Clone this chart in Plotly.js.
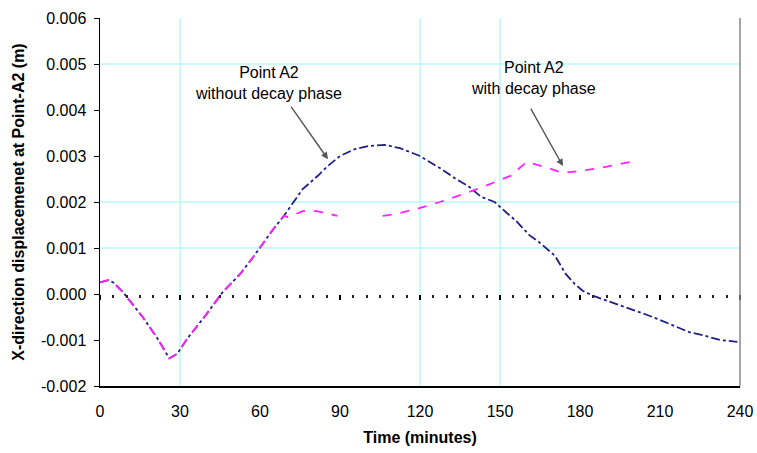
<!DOCTYPE html>
<html>
<head>
<meta charset="utf-8">
<script src="https://cdn.plot.ly/plotly-3.0.1.min.js"></script>
<style>html,body{margin:0;padding:0;background:#fff;}#chart{width:757px;height:453px;}</style>
</head>
<body>
<div id="chart"></div>
<script>
// Point A2 without decay phase (blue)
const tBlue = [0, 3, 5, 8.6, 16, 21.7, 26, 29, 32.6, 39.4, 46, 52.5, 57.4, 61, 65, 69, 71, 76, 81.7, 85, 90, 95.6, 101, 107, 112.5, 120, 123, 128, 133.5, 138, 143, 148, 152.6, 156, 161, 164.6, 170.6, 174.7, 178, 181, 185, 190.5, 197, 204, 209, 215.6, 221, 227, 232.5, 239];
const vBlue = [0.00025, 0.0003, 0.00025, 0.00004, -0.0005, -0.00098, -0.0014, -0.0013, -0.00098, -0.00048, 0.00004, 0.00043, 0.0008, 0.00109, 0.00141, 0.0017, 0.00187, 0.00228, 0.00257, 0.00276, 0.003, 0.00315, 0.00322, 0.00324, 0.00317, 0.003, 0.00289, 0.00272, 0.0025, 0.00235, 0.00211, 0.002, 0.00176, 0.00159, 0.00128, 0.00113, 0.00083, 0.00043, 0.00022, 0.00007, -0.00004, -0.00015, -0.00028, -0.00043, -0.00054, -0.0007, -0.00083, -0.00091, -0.001, -0.00104];
// Point A2 with decay phase (magenta)
const tMag = [0, 3, 5, 8.6, 16, 21.7, 26, 29, 32.6, 39.4, 46, 52.5, 57.4, 61, 65, 69, 70.5, 76, 81.4, 89, 95, 106, 111, 120, 127.5, 135, 142.5, 150, 154, 160, 167, 173.6, 180, 185.6, 191, 196, 200.6];
const vMag = [0.00025, 0.0003, 0.00025, 0.00004, -0.0005, -0.00098, -0.0014, -0.0013, -0.00098, -0.00048, 0.00004, 0.00043, 0.0008, 0.00109, 0.00141, 0.0017, 0.00167, 0.0018, 0.0018, 0.0017, null, 0.0017, 0.00174, 0.00187, 0.002, 0.00215, 0.0023, 0.00248, 0.00257, 0.00287, 0.00276, 0.00263, 0.00267, 0.00272, 0.00278, 0.00283, 0.00289];

const xTicks = [0, 30, 60, 90, 120, 150, 180, 210, 240];
const yTicks = [-0.002, -0.001, 0, 0.001, 0.002, 0.003, 0.004, 0.005, 0.006];
const yTickText = ['-0.002', '-0.001', '0.000', '0.001', '0.002', '0.003', '0.004', '0.005', '0.006'];
const gridX = [30, 120, 150];
const gridY = [0.005, 0.002, 0.001];
const labelText = ['Point A2<br>without decay phase', 'Point A2<br>with decay phase'];
const labelPos = [[63, 0.00459], [162.4, 0.0047]];
const arrowTip = [[85.5, 0.00293], [173.6, 0.00278]];

const shapes = [];
gridX.forEach(g => shapes.push({type: 'line', xref: 'x', yref: 'paper', x0: g, x1: g, y0: 0, y1: 1, line: {color: '#b8f6fa', width: 1.5}, layer: 'below'}));
gridY.forEach(g => shapes.push({type: 'line', xref: 'paper', yref: 'y', x0: 0, x1: 1, y0: g, y1: g, line: {color: '#b8f6fa', width: 1.5}, layer: 'below'}));
shapes.push({type: 'line', xref: 'paper', yref: 'paper', x0: 1, x1: 1, y0: 0, y1: 1, line: {color: '#888888', width: 1.5}});

const data = [
  {x: tBlue, y: vBlue, type: 'scatter', mode: 'lines', name: 'without decay phase',
   line: {color: '#1f1f8a', width: 1.8, dash: 'dashdot'}, connectgaps: false},
  {x: tMag, y: vMag, type: 'scatter', mode: 'lines', name: 'with decay phase',
   line: {color: '#ff22ff', width: 1.8, dash: 'dash'}, connectgaps: false},
  {x: [], y: [], xaxis: 'x2', type: 'scatter', mode: 'lines', showlegend: false, hoverinfo: 'skip'}
];

const font = {family: 'Liberation Sans, Arial, sans-serif', color: '#000'};
const yMin = -0.002, yMax = 0.006;
const arrowOffsets = [[-38, -54], [-33, -59]];

const annotations = [];
labelText.forEach((t, i) => annotations.push({
  x: labelPos[i][0], y: labelPos[i][1], xref: 'x', yref: 'y', text: t, showarrow: false,
  font: Object.assign({size: 16}, font), align: 'center', xanchor: 'center', yanchor: 'middle'
}));
arrowTip.forEach((p, i) => annotations.push({
  x: p[0], y: p[1], xref: 'x', yref: 'y', text: '', showarrow: true,
  arrowhead: 2, arrowsize: 1, arrowwidth: 1.4, arrowcolor: '#555',
  ax: arrowOffsets[i][0], ay: arrowOffsets[i][1]
}));

const layout = {
  width: 757, height: 453,
  margin: {l: 100, r: 17, t: 18, b: 67},
  paper_bgcolor: '#fff', plot_bgcolor: '#fff',
  showlegend: false,
  font: Object.assign({size: 16}, font),
  xaxis: {
    range: [0, 240], tickvals: xTicks, ticktext: xTicks.map(String),
    showgrid: false, zeroline: false, showline: true, linecolor: '#000', linewidth: 1.5,
    ticks: '', tickfont: Object.assign({size: 16}, font), ticklabelstandoff: 10,
    title: {text: 'Time (minutes)', font: Object.assign({size: 16, weight: 'bold'}, font), standoff: 13}
  },
  xaxis2: {
    range: [0, 240], overlaying: 'x', anchor: 'free',
    position: (0 - yMin) / (yMax - yMin),
    showline: false, showgrid: false, zeroline: false, showticklabels: false,
    tickvals: xTicks, ticks: 'outside', ticklen: 5, tickwidth: 2, tickcolor: '#000',
    minor: {dtick: 5, ticks: 'outside', ticklen: 3, tickwidth: 2, tickcolor: '#222', showgrid: false}
  },
  yaxis: {
    range: [yMin, yMax], tickvals: yTicks, ticktext: yTickText,
    showgrid: false, zeroline: false, showline: true, linecolor: '#000', linewidth: 1.5,
    ticks: 'outside', ticklen: 5, tickcolor: '#000', tickfont: Object.assign({size: 16}, font), ticklabelstandoff: 4,
    title: {text: 'X-direction displacemenet at Point-A2 (m)', font: Object.assign({size: 16, weight: 'bold'}, font), standoff: 12}
  },
  shapes: shapes,
  annotations: annotations
};

Plotly.newPlot('chart', data, layout, {displayModeBar: false, staticPlot: true});
</script>
</body>
</html>
